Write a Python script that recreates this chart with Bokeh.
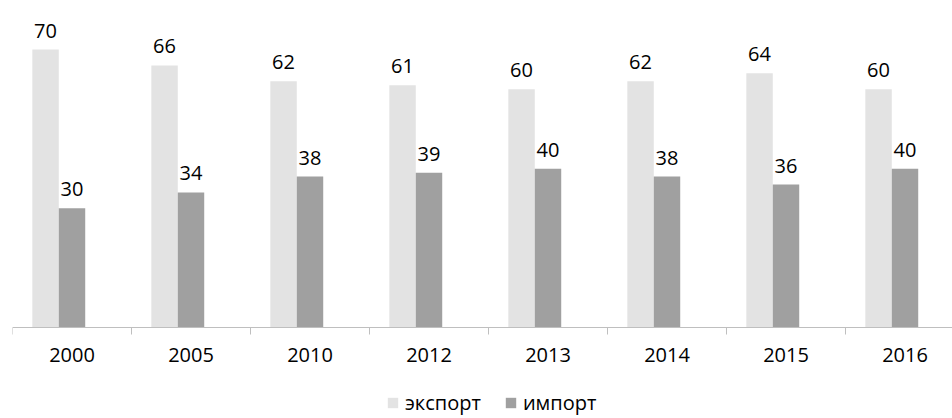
from bokeh.plotting import figure
from bokeh.models import ColumnDataSource, Range1d, FixedTicker, Legend, LegendItem
from bokeh.core.properties import value
from bokeh.embed import file_html
from bokeh.resources import INLINE

years = ["2000", "2005", "2010", "2012", "2013", "2014", "2015", "2016"]
export_vals = [70, 66, 62, 61, 60, 62, 64, 60]
import_vals = [30, 34, 38, 39, 40, 38, 36, 40]

FONT = "Open Sans"
EXPORT_COLOR = "#e3e3e3"
IMPORT_COLOR = "#a0a0a0"
AXIS_COLOR = "#bfbfbf"

n = len(years)
bw = 1 / 4.5  # three slots per category, 150% gap (third slot empty)
centers = [i + 0.5 for i in range(n)]

src = ColumnDataSource(dict(
    xe=[c - bw for c in centers],
    xi=centers,
    exp=export_vals,
    imp=import_vals,
    exp_t=[str(v) for v in export_vals],
    imp_t=[str(v) for v in import_vals],
))

p = figure(width=952, height=418, output_backend="svg", toolbar_location=None,
           x_range=Range1d(0, 940 / 119), y_range=Range1d(-22.92, 82.35),
           min_border_left=12, min_border_right=0, min_border_top=0, min_border_bottom=0)
p.outline_line_color = None
p.xgrid.visible = False
p.ygrid.visible = False
p.yaxis.visible = False

r1 = p.vbar(x="xe", top="exp", bottom=0, width=bw, source=src, fill_color=EXPORT_COLOR, line_color=None)
r2 = p.vbar(x="xi", top="imp", bottom=0, width=bw, source=src, fill_color=IMPORT_COLOR, line_color=None)

p.text(x="xe", y="exp", text="exp_t", source=src, text_align="center", text_baseline="alphabetic",
       y_offset=-19, text_font=value(FONT), text_font_size="20px", text_color="#000000")
p.text(x="xi", y="imp", text="imp_t", source=src, text_align="center", text_baseline="alphabetic",
       y_offset=-19, text_font=value(FONT), text_font_size="20px", text_color="#000000")

ax = p.xaxis[0]
ax.fixed_location = 0
ax.ticker = FixedTicker(ticks=centers, minor_ticks=list(range(n + 1)))
ax.major_label_overrides = {c: y for c, y in zip(centers, years)}
ax.major_tick_out = 0
ax.major_tick_in = 0
ax.minor_tick_out = 7
ax.minor_tick_in = 0
ax.minor_tick_line_color = AXIS_COLOR
ax.axis_line_color = AXIS_COLOR
ax.major_label_standoff = 14
ax.major_label_text_font = FONT
ax.major_label_text_font_size = "20px"
ax.major_label_text_color = "#000000"

legend = Legend(items=[LegendItem(label="экспорт", renderers=[r1]),
                       LegendItem(label="импорт", renderers=[r2])],
                orientation="horizontal", location=(374, 2),
                label_text_font=FONT, label_text_font_size="20px", label_text_color="#000000",
                glyph_width=13, glyph_height=13, label_standoff=6, spacing=23,
                padding=0, margin=0, border_line_alpha=0, background_fill_alpha=0)
p.add_layout(legend)

open("out.html", "w").write(file_html(p, INLINE))
